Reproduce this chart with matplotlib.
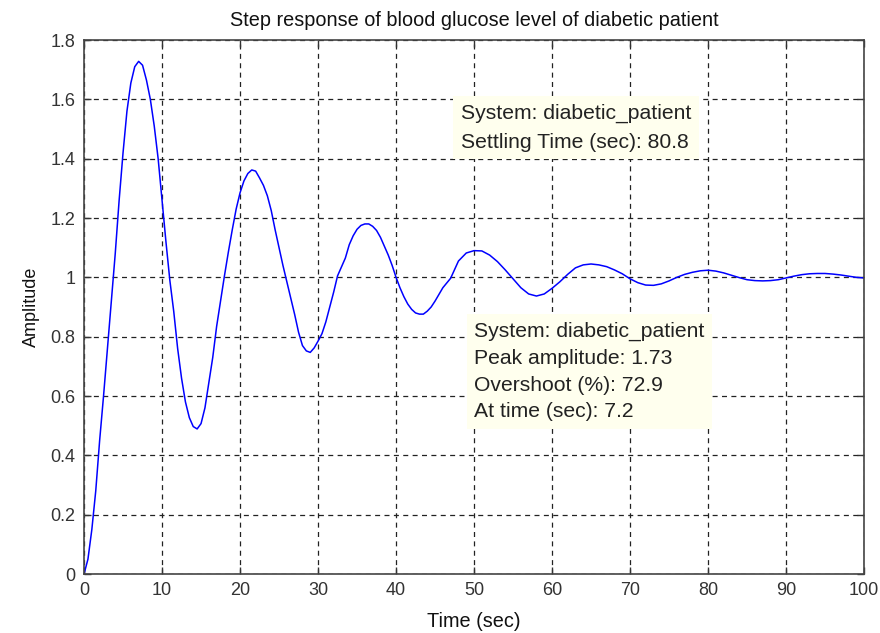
import matplotlib
matplotlib.use("Agg")
import matplotlib.pyplot as plt

plt.rcParams['font.family'] = ['Liberation Sans', 'DejaVu Sans']

# Step response samples
time_s = [0, 0.5, 1, 1.5, 2, 2.5, 3, 3.5, 4, 4.5, 5, 5.5, 6, 6.5, 7, 7.5, 8, 8.5, 9, 9.5,
          10, 10.5, 11, 11.5, 12, 12.5, 13, 13.5, 14, 14.5, 15, 15.5, 16, 16.5, 17, 17.5,
          18, 18.5, 19, 19.5, 20, 20.5, 21, 21.5, 22, 22.5, 23, 23.5, 24, 24.5, 25, 25.5,
          26, 26.5, 27, 27.5, 28, 28.5, 29, 29.5, 30, 30.5, 31, 31.5, 32, 32.5, 33, 33.5,
          34, 34.5, 35, 35.5, 36, 36.5, 37, 37.5, 38, 38.5, 39, 39.5, 40, 40.5, 41, 41.5,
          42, 42.5, 43, 43.5, 44, 44.5, 45, 46, 47, 48, 49, 50, 51, 52, 53, 54, 55, 56, 57,
          58, 59, 60, 61, 62, 63, 64, 65, 66, 67, 68, 69, 70, 71, 72, 73, 74, 75, 76, 77,
          78, 79, 80, 81, 82, 83, 84, 85, 86, 87, 88, 89, 90, 91, 92, 93, 94, 95, 96, 97,
          98, 99, 100]
amplitude = [0, 0.05, 0.15, 0.28, 0.45, 0.60, 0.76, 0.92, 1.08, 1.26, 1.42, 1.56, 1.655,
             1.71, 1.728, 1.715, 1.665, 1.60, 1.51, 1.40, 1.26, 1.12, 0.99, 0.885, 0.76,
             0.66, 0.58, 0.527, 0.497, 0.489, 0.507, 0.56, 0.645, 0.73, 0.835, 0.92, 1.005,
             1.085, 1.16, 1.23, 1.285, 1.325, 1.35, 1.362, 1.358, 1.335, 1.31, 1.275, 1.225,
             1.16, 1.10, 1.04, 0.985, 0.93, 0.875, 0.815, 0.77, 0.752, 0.747, 0.762, 0.785,
             0.81, 0.85, 0.90, 0.95, 1.005, 1.035, 1.065, 1.11, 1.14, 1.162, 1.175, 1.18,
             1.18, 1.172, 1.158, 1.135, 1.105, 1.075, 1.04, 1.00, 0.965, 0.935, 0.91, 0.892,
             0.88, 0.876, 0.876, 0.886, 0.90, 0.92, 0.965, 0.997, 1.055, 1.082, 1.09, 1.089,
             1.075, 1.053, 1.025, 0.995, 0.965, 0.944, 0.937, 0.944, 0.963, 0.985, 1.01,
             1.032, 1.042, 1.045, 1.042, 1.036, 1.025, 1.012, 0.995, 0.982, 0.974, 0.973,
             0.978, 0.988, 1.0, 1.01, 1.017, 1.022, 1.024, 1.021, 1.015, 1.007, 0.999, 0.992,
             0.989, 0.988, 0.989, 0.992, 0.998, 1.004, 1.009, 1.012, 1.013, 1.013, 1.011,
             1.008, 1.004, 1.0, 0.998]

x_ticks = [0, 10, 20, 30, 40, 50, 60, 70, 80, 90, 100]
y_ticks = [0, 0.2, 0.4, 0.6, 0.8, 1, 1.2, 1.4, 1.6, 1.8]
y_tick_labels = ['0', '0.2', '0.4', '0.6', '0.8', '1', '1.2', '1.4', '1.6', '1.8']

title = 'Step response of blood glucose level of diabetic patient'
x_label = 'Time (sec)'
y_label = 'Amplitude'
settling_text = 'System: diabetic_patient\nSettling Time (sec): 80.8'
peak_text = ('System: diabetic_patient\nPeak amplitude: 1.73\n'
             'Overshoot (%): 72.9\nAt time (sec): 7.2')

fig = plt.figure(figsize=(8.8, 6.33), dpi=100)
ax = fig.add_axes([0.0955, 0.0932, 0.8864, 0.8436])

ax.plot(time_s, amplitude, color='#0000ff', linewidth=1.1)

ax.set_xlim(0, 100)
ax.set_ylim(0, 1.8)
ax.set_xticks(x_ticks)
ax.set_xticklabels([str(v) for v in x_ticks])
ax.set_yticks(y_ticks)
ax.set_yticklabels(y_tick_labels)

ax.grid(True, color='#222222', linestyle=(0, (4, 3.5)), linewidth=0.9)
ax.tick_params(direction='in', length=5, width=1, colors='#333333',
               top=True, right=True, labelsize=13, pad=6)
for sp in ax.spines.values():
    sp.set_color('#444444')
    sp.set_linewidth(1.2)

ax.set_title(title, fontsize=14.3, color='#111111', pad=10)
ax.set_xlabel(x_label, fontsize=14.3, color='#111111', labelpad=9)
ax.set_ylabel(y_label, fontsize=13, color='#111111', labelpad=8)

box = dict(boxstyle='square,pad=0.35', facecolor='#ffffee', edgecolor='none')
ax.text(48.3, 1.585, settling_text, fontsize=15.2, color='#222222', va='top', ha='left',
        linespacing=1.65, bbox=box, zorder=5)
ax.text(50.0, 0.85, peak_text, fontsize=15.2, color='#222222', va='top', ha='left',
        linespacing=1.52, bbox=box, zorder=5)

fig.savefig('out.png', dpi=100)
